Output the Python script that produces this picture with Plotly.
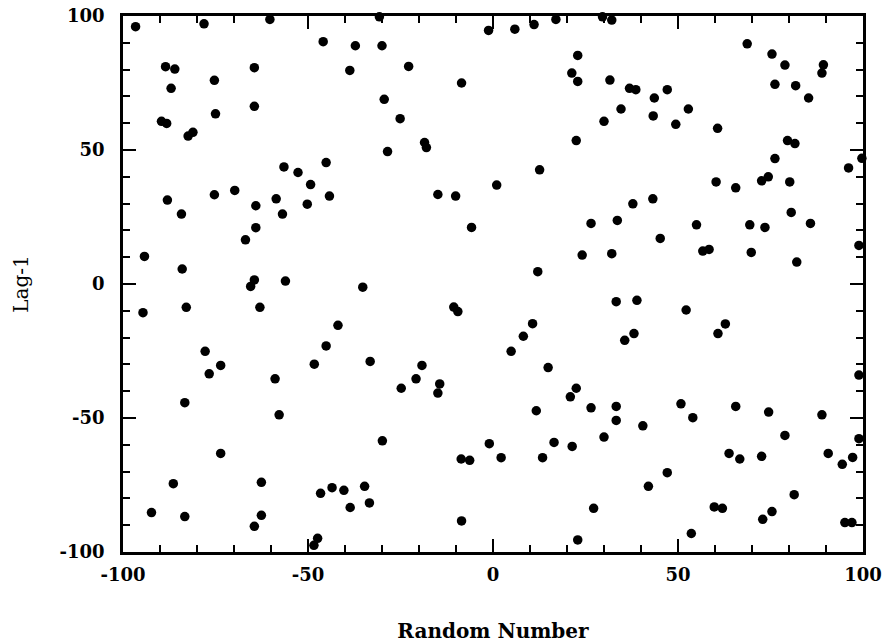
import plotly.graph_objects as go

# Lag plot: random number (x) vs. lag-1 value (y)
random_number = [
    -96.6, -78.1, -60.3, -45.9, -37.2, -88.5, -86.0, -64.5, -38.7, -75.3,
    -87.0, -64.5, -75.0, -89.6, -88.2, -82.4, -81.1, -45.1, -56.5, -52.7,
    -49.3, -69.8, -75.3, -44.2, -88.0, -58.6, -50.2, -64.1, -84.2, -56.9,
    -64.1, -66.9, -94.2, -84.0, -64.5, -65.5, -56.1, -35.2,
    -30.7, -1.2, 5.9, 11.1, 17.0, 29.6, 32.1, -30.0, -22.8, 22.9,
    21.3, 22.9, 31.6, -8.5, -29.4, 34.6, -25.1, 30.0, -18.5, -18.0,
    -28.5, 22.5, 12.6, 1.0, -14.9, -10.1, -5.8, 26.5, 33.6, 24.1,
    32.1, 12.1,
    68.7, 75.4, 78.9, 89.3, 88.9, 76.2, 81.8, 85.3, 36.9, 38.6,
    47.1, 43.6, 43.3, 52.8, 49.4, 60.7, 79.6, 81.6, 76.2, 99.7,
    96.1, 72.6, 74.4, 60.3, 65.6, 80.2, 37.8, 43.2, 80.6, 55.0,
    69.4, 73.5, 85.8, 45.2, 56.7, 58.4, 69.8, 82.1, 98.9,
    -94.6, -82.9, -63.0, -41.9, -45.1, -77.8, -48.3, -33.2, -73.6, -76.7,
    -58.9, -83.3, -57.8, -73.6, -86.4, -62.6, -46.6, -43.5, -40.3, -34.7,
    -38.6, -33.4, -92.3, -83.3, -62.6, -64.5, -47.4, -48.4,
    -10.6, -9.5, 33.3, 10.7, 8.2, 4.9, 35.6, -19.2, -20.8, -24.8,
    -14.4, -14.9, 14.9, 22.5, 20.9, 11.7, 26.5, 33.3, 33.3, 30.0,
    16.5, 21.4, -29.9, -1.0, 2.2, 13.4, -8.6, -6.3, 27.2, -8.5,
    22.9,
    38.9, 52.2, 60.8, 62.8, 38.1, 98.9, 50.8, 54.0, 40.5, 65.6,
    74.5, 88.9, 78.9, 98.9, 63.8, 66.7, 72.6, 90.6, 94.4, 97.2,
    47.1, 42.0, 81.4, 59.8, 62.0, 72.9, 75.4, 95.1, 97.0, 53.6,
]

lag_1 = [
    96.0, 97.1, 98.7, 90.4, 88.9, 81.1, 80.2, 80.7, 79.7, 76.0,
    73.0, 66.3, 63.5, 60.7, 59.9, 55.2, 56.6, 45.3, 43.7, 41.6,
    37.1, 34.9, 33.3, 32.8, 31.3, 31.8, 29.8, 29.2, 26.1, 26.1,
    21.0, 16.5, 10.3, 5.6, 1.5, -0.9, 1.1, -1.2,
    99.7, 94.6, 95.1, 96.8, 98.7, 99.7, 98.5, 88.9, 81.2, 85.3,
    78.7, 75.6, 76.1, 75.0, 68.9, 65.3, 61.7, 60.7, 52.8, 50.9,
    49.4, 53.5, 42.6, 36.9, 33.4, 32.8, 21.1, 22.6, 23.7, 10.8,
    11.3, 4.6,
    89.6, 85.8, 81.7, 81.8, 78.7, 74.5, 74.0, 69.4, 73.0, 72.5,
    72.5, 69.4, 62.7, 65.3, 59.6, 58.1, 53.5, 52.4, 46.8, 46.9,
    43.3, 38.5, 40.0, 38.1, 35.9, 38.1, 29.9, 31.8, 26.7, 22.1,
    22.1, 21.1, 22.6, 17.0, 12.3, 12.9, 11.8, 8.2, 14.4,
    -10.7, -8.7, -8.7, -15.4, -23.1, -25.1, -29.9, -28.9, -30.4, -33.5,
    -35.4, -44.3, -48.8, -63.2, -74.5, -74.0, -78.1, -76.0, -77.0, -75.5,
    -83.4, -81.7, -85.3, -86.8, -86.3, -90.4, -94.9, -97.5,
    -8.6, -10.3, -6.6, -14.8, -19.5, -25.1, -21.0, -30.4, -35.4, -38.9,
    -37.3, -40.7, -31.2, -38.9, -42.1, -47.3, -46.2, -45.7, -50.9, -57.1,
    -59.1, -60.6, -58.5, -59.6, -64.8, -64.8, -65.3, -65.8, -83.7, -88.4,
    -95.5,
    -6.1, -9.7, -18.5, -14.9, -18.5, -34.0, -44.7, -49.9, -52.9, -45.7,
    -47.8, -48.8, -56.5, -57.7, -63.2, -65.3, -64.3, -63.2, -67.3, -64.7,
    -70.4, -75.5, -78.6, -83.2, -83.7, -87.8, -84.9, -89.0, -89.0, -93.1,
]

x_title = "Random Number"
y_title = "Lag-1"
tick_values = [-100, -50, 0, 50, 100]
tick_labels = ["-100", "-50", "0", "50", "100"]

serif = "DejaVu Serif, serif"

fig = go.Figure()
fig.add_trace(go.Scatter(
    x=random_number, y=lag_1, mode="markers",
    marker=dict(color="black", size=9.5, line=dict(width=0)),
    cliponaxis=False, showlegend=False,
))

axis_common = dict(
    range=[-100, 100],
    tickmode="array", tickvals=tick_values, ticktext=tick_labels,
    ticks="inside", ticklen=13, tickwidth=2, tickcolor="black",
    minor=dict(dtick=10, ticks="inside", ticklen=7, tickwidth=2, tickcolor="black",
               showgrid=False),
    showline=True, linewidth=2.5, linecolor="black", mirror="ticks",
    showgrid=False, zeroline=False, automargin=False,
    tickfont=dict(family=serif, size=18, color="black", weight="bold"),
)

fig.update_xaxes(**axis_common, ticklabelstandoff=5,
                 title=dict(text=x_title, standoff=40,
                            font=dict(family=serif, size=20, color="black", weight="bold")))
fig.update_yaxes(**axis_common, ticklabelstandoff=12,
                 title=dict(text=y_title, standoff=26,
                            font=dict(family=serif, size=20, color="black")))

fig.update_layout(
    width=884, height=644,
    margin=dict(l=123, r=21, t=16, b=92),
    paper_bgcolor="white", plot_bgcolor="white",
)

fig.write_html("out.html")
